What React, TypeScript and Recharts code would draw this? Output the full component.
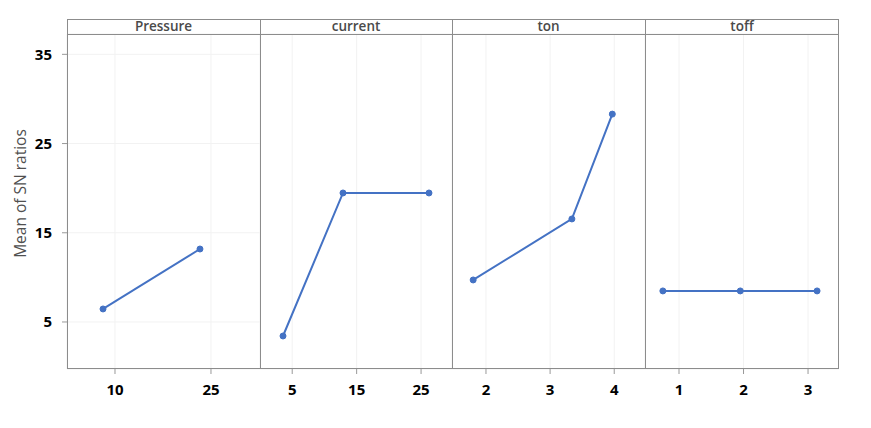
import { CartesianGrid, Line, LineChart, XAxis, YAxis } from "recharts";

// Main effects plot for SN ratios, one panel per factor.
// Level positions in the units of each panel's axis.
const yTicks = [5, 15, 25, 35];
const yDomain: [number, number] = [-0.27, 37.28];
const yTitle = "Mean of SN ratios";

const pressureLevels = [8.13, 23.28];
const pressureSN = [6.46, 13.18];
const pressureTicks = [10, 25];

const currentLevels = [3.57, 12.88, 26.23];
const currentSN = [3.43, 19.46, 19.46];
const currentTicks = [5, 15, 25];

const tonLevels = [1.8, 3.34, 3.97];
const tonSN = [9.71, 16.55, 28.3];
const tonTicks = [2, 3, 4];

const toffLevels = [0.75, 1.95, 3.14];
const toffSN = [8.48, 8.48, 8.48];
const toffTicks = [1, 2, 3];

const BLUE = "#4472c4";
const FRAME = "#8c8c8c";
const TOP = 34; // plot area top (below the header strip)
const BOTTOM = 369; // plot area bottom
const H = 428;

const zip = (xs: number[], ys: number[]) => xs.map((x, i) => ({ x, y: ys[i] }));

const panels = [
  { name: "Pressure", left: 67, right: 260, domain: [2.5, 32.66], ticks: pressureTicks, data: zip(pressureLevels, pressureSN) },
  { name: "current", left: 260, right: 452, domain: [0, 29.8], ticks: currentTicks, data: zip(currentLevels, currentSN) },
  { name: "ton", left: 452, right: 645, domain: [1.47, 4.48], ticks: tonTicks, data: zip(tonLevels, tonSN) },
  { name: "toff", left: 645, right: 839, domain: [0.473, 3.48], ticks: toffTicks, data: zip(toffLevels, toffSN) },
];

const tickFont = { fill: "#000", fontSize: 15, fontWeight: 700, fontFamily: "'Open Sans', sans-serif" };

function YTitle({ viewBox }: any) {
  const cx = viewBox.x + 20;
  const cy = viewBox.y + viewBox.height / 2 - 8;
  return (
    <text
      x={cx}
      y={cy}
      transform={`rotate(-90 ${cx} ${cy})`}
      textAnchor="middle"
      dominantBaseline="central"
      fill="#505050"
      fontSize={15.5}
      fontFamily="'Open Sans', sans-serif"
    >
      {yTitle}
    </text>
  );
}

export default function App() {
  return (
    <div
      style={{
        position: "absolute",
        left: 0,
        top: 0,
        width: 871,
        height: H,
        background: "#fff",
        fontFamily: "'Open Sans', sans-serif",
      }}
    >
      {panels.map((p, i) => {
        const first = i === 0;
        const chartLeft = first ? 0 : p.left;
        return (
          <div key={p.name} style={{ position: "absolute", left: chartLeft, top: 0 }}>
            <LineChart
              width={p.right - chartLeft}
              height={H}
              data={p.data}
              margin={{ top: TOP, right: 0, bottom: 0, left: 0 }}
            >
              <CartesianGrid stroke="#f2f2f2" />
              <XAxis
                type="number"
                dataKey="x"
                domain={p.domain}
                ticks={p.ticks}
                allowDataOverflow
                height={H - BOTTOM}
                axisLine={false}
                tickLine={{ stroke: "#999" }}
                tickSize={5}
                tickMargin={10}
                tick={tickFont}
              />
              <YAxis
                type="number"
                domain={yDomain}
                ticks={yTicks}
                allowDataOverflow
                width={first ? 67 : 0}
                axisLine={false}
                tickLine={first ? { stroke: "#999" } : false}
                tick={first ? tickFont : false}
                tickSize={5}
                tickMargin={10}
                label={first ? { content: YTitle } : undefined}
              />
              <Line
                type="linear"
                dataKey="y"
                stroke={BLUE}
                strokeWidth={2}
                dot={{ r: 3, fill: BLUE, stroke: BLUE, strokeWidth: 1 }}
                isAnimationActive={false}
              />
            </LineChart>
          </div>
        );
      })}

      {/* frame, panel dividers and header strip */}
      <div
        style={{
          position: "absolute",
          left: 67,
          top: 19,
          width: 839 - 67,
          height: BOTTOM - 19,
          border: `1px solid ${FRAME}`,
          boxSizing: "border-box",
          pointerEvents: "none",
        }}
      />
      <div style={{ position: "absolute", left: 67, top: TOP, width: 839 - 67, height: 1, background: FRAME }} />
      {panels.slice(1).map((p) => (
        <div
          key={`div-${p.name}`}
          style={{ position: "absolute", left: p.left, top: 19, width: 1, height: BOTTOM - 19, background: FRAME }}
        />
      ))}
      {panels.map((p) => (
        <div
          key={`hdr-${p.name}`}
          style={{
            position: "absolute",
            left: p.left,
            top: 19,
            width: p.right - p.left,
            height: TOP - 19,
            lineHeight: `${TOP - 19}px`,
            textAlign: "center",
            fontSize: 13.5,
            fontWeight: 600,
            color: "#4a4a4a",
          }}
        >
          {p.name}
        </div>
      ))}
    </div>
  );
}
